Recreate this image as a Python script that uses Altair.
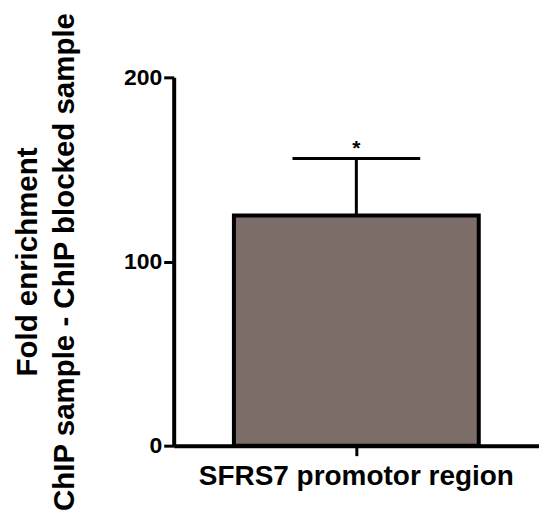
import altair as alt
import pandas as pd

categories = ["SFRS7 promotor region"]
means = [125]
errors = [31]
marks = ["*"]

df = pd.DataFrame({
    "region": categories,
    "mean": means,
    "upper": [m + e for m, e in zip(means, errors)],
    "sig": marks,
})

FONT = "Liberation Sans"

x = alt.X("region:N", title=None,
          scale=alt.Scale(paddingInner=0, paddingOuter=0.246),
          axis=alt.Axis(labelAngle=0, labelFontSize=28, labelPadding=7, labelLimit=1000))
y = alt.Y("mean:Q",
          scale=alt.Scale(domain=[0, 200], nice=False),
          axis=alt.Axis(values=[0, 100, 200], title=["Fold enrichment", "ChIP sample - ChIP blocked sample"],
                        titleFontSize=29.5, titlePadding=44, titleLineHeight=37,
                        labelFontSize=23, labelPadding=2))

base = alt.Chart(df)

bars = base.mark_bar(fill="#7d6d69", stroke="black", strokeWidth=4, opacity=1).encode(x=x, y=y)
err = base.mark_rule(color="black", strokeWidth=3, opacity=1).encode(x=x, y=y, y2="upper:Q")
cap = base.mark_tick(color="black", thickness=3, size=128, orient="horizontal", opacity=1).encode(
    x=x, y=alt.Y("upper:Q"))
star = base.mark_text(fontSize=21, font=FONT, fontWeight="bold", baseline="alphabetic", dy=-3, color="black").encode(
    x=x, y=alt.Y("upper:Q"), text="sig:N")

chart = alt.layer(bars, err, cap, star).properties(
    width=366, height=369,
    background="white",
    autosize=alt.AutoSizeParams(type="none"),
    padding={"left": 166, "top": 69, "right": 0, "bottom": 74},
).configure_axis(
    grid=False,
    labelFont=FONT, labelFontWeight="bold", labelColor="black",
    titleFont=FONT, titleFontWeight="bold", titleColor="black",
    domainWidth=4, domainColor="black", tickWidth=3, tickSize=10, tickColor="black",
).configure_view(stroke=None)

chart.save("out.html", embed_options={"renderer": "svg", "actions": False})
